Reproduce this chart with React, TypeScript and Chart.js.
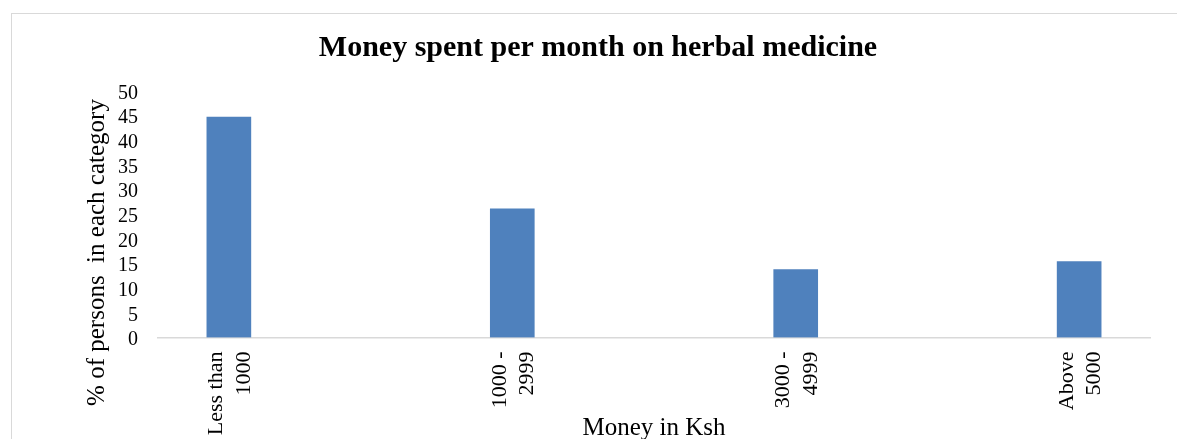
import React, { useEffect, useRef } from "react";
import { Chart, registerables } from "chart.js";

Chart.register(...registerables);

// ---- data ----
const categoryLabels: string[][] = [
  ["Less than", "1000"],
  ["1000 -", "2999"],
  ["3000 -", "4999"],
  ["Above", "5000"],
];
const percentValues: number[] = [44.7, 26.1, 13.8, 15.4];
const yMin = 0;
const yMax = 50;
const yStep = 5;
const titleText = "Money spent per month on herbal medicine";
const xTitleText = "Money in Ksh";
const yTitleText = "% of persons  in each category";

const FONT = '"Liberation Serif", "Times New Roman", Times, serif';

export default function App() {
  const ref = useRef<HTMLCanvasElement>(null);

  useEffect(() => {
    if (!ref.current) return;

    const yTitlePlugin = {
      id: "yTitleRotated",
      afterDraw(chart: any) {
        const { ctx, chartArea } = chart;
        ctx.save();
        ctx.font = `25px ${FONT}`;
        ctx.fillStyle = "#000";
        ctx.textAlign = "center";
        ctx.textBaseline = "middle";
        ctx.translate(chartArea.left - 61, chartArea.bottom - 85);
        ctx.rotate(-Math.PI / 2);
        ctx.fillText(yTitleText, 0, 0);
        ctx.restore();
      },
    };

    const chart = new Chart(ref.current, {
      type: "bar",
      data: {
        datasets: [
          {
            data: percentValues.map((v, i) => ({ x: i, y: v })),
            backgroundColor: "#4F81BD",
            borderWidth: 0,
            barThickness: 44,
          } as any,
        ],
      },
      options: {
        animation: false,
        responsive: false,
        layout: { padding: { left: 34, right: 34, top: 0, bottom: 0 } },
        plugins: {
          legend: { display: false },
          tooltip: { enabled: false },
          title: {
            display: true,
            text: titleText,
            color: "#000",
            font: { family: FONT, size: 30, weight: "bold", lineHeight: 1.2 },
            padding: { top: 16, bottom: 25 },
          },
        },
        scales: {
          x: {
            type: "linear",
            offset: false,
            min: -0.25,
            max: categoryLabels.length - 0.75,
            afterBuildTicks: (s: any) => {
              s.ticks = categoryLabels.map((_, i) => ({ value: i }));
            },
            afterFit: (s: any) => {
              s.height = 108.5;
            },
            grid: { display: false, drawTicks: false },
            border: { display: true, color: "#d9d9d9", width: 1.5 },
            ticks: {
              autoSkip: false,
              minRotation: 90,
              maxRotation: 90,
              padding: 14,
              labelOffset: -12.2,
              color: "#000",
              font: { family: FONT, size: 22, lineHeight: 1.25 },
              callback: (v: any) => categoryLabels[v as number] ?? "",
            },
            title: {
              display: true,
              text: xTitleText,
              color: "#000",
              font: { family: FONT, size: 25, lineHeight: 1.2 },
              padding: { top: 0, bottom: 3 },
            },
          } as any,
          y: {
            min: yMin,
            max: yMax,
            afterFit: (s: any) => {
              s.width = 112;
            },
            grid: { display: false, drawTicks: false },
            border: { display: false },
            ticks: {
              stepSize: yStep,
              autoSkip: false,
              padding: 20,
              labelOffset: 2.5,
              color: "#000",
              font: { family: FONT, size: 20, lineHeight: 1 },
            },
          } as any,
        },
      },
      plugins: [yTitlePlugin],
    });

    return () => chart.destroy();
  }, []);

  return (
    <div
      style={{
        position: "fixed",
        left: 0,
        top: 0,
        width: "100vw",
        height: "100vh",
        overflow: "hidden",
        background: "#fff",
      }}
    >
      <div
        style={{
          position: "absolute",
          left: 11,
          top: 13,
          width: 1172,
          height: 432,
          border: "1px solid #d9d9d9",
        }}
      >
        <canvas
          ref={ref}
          width={1172}
          height={432}
          style={{ display: "block", width: 1172, height: 432 }}
        />
      </div>
    </div>
  );
}
